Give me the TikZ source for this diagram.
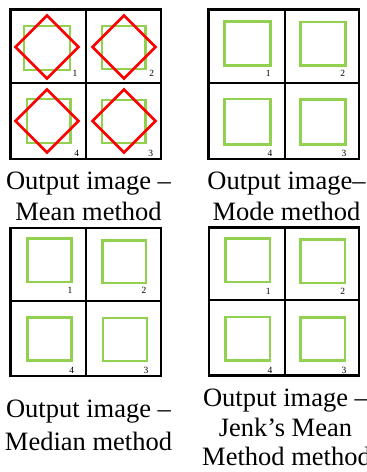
\documentclass[tikz,border=0pt]{standalone}
\usepackage{fontspec}
\setmainfont{Liberation Serif}
\definecolor{lgreen}{HTML}{92D050}
\definecolor{dred}{HTML}{FF0000}
\tikzset{
  outerframe/.style={draw=black, line width=2.6pt},
  innergrid/.style={draw=black, line width=2pt},
  gsq/.style={draw=lgreen, line width=2.6pt},
  rdia/.style={draw=dred, line width=2.6pt, line join=miter},
  num/.style={font=\fontsize{9.5}{10}\selectfont, inner sep=0pt},
  captext/.style={font=\fontsize{26.5}{30}\selectfont, inner sep=0pt, anchor=base},
}
\newcommand\rdiamond[3]{\draw[rdia] ({#1},{#2-31.5}) -- ({#1+31.5},{#2}) -- ({#1},{#2+31.5}) -- ({#1-31.5},{#2}) -- cycle;}
\begin{document}
\begin{tikzpicture}[x=1pt,y=-1pt]
\useasboundingbox (0,0) rectangle (367,472);
\fill[white] (0,0) rectangle (367,472);

% ---------- Panel 1 : Mean ----------
\draw[gsq] (24,26) rectangle (70,70);
\draw[gsq] (102,26) rectangle (145.5,69);
\draw[gsq] (27,99) rectangle (70.5,143);
\draw[gsq] (102,100) rectangle (145.5,143);
\rdiamond{47}{47}{}
\rdiamond{124}{47}{}
\rdiamond{47}{121}{}
\rdiamond{124}{121}{}
\draw[outerframe] (10.5,9.5) rectangle (161,159);
\draw[innergrid] (86,9.5) -- (86,159) (10.5,83) -- (161,83);
\node[num] (a1) at (75,73.3) {1};
\node[num] (a2) at (151.7,73.3) {2};
\node[num] (a4) at (76.7,153) {4};
\node[num] (a3) at (150.7,153) {3};
\node[captext] (capa1) at (88.5,189.3) {Output image –};
\node[captext] (capa2) at (88.5,220) {Mean method};

% ---------- Panel 2 : Mode ----------
\draw[gsq] (224.5,21.2) rectangle (270.2,65.5);
\draw[gsq] (300.2,21.9) rectangle (345.2,65.5);
\draw[gsq] (224.5,98.9) rectangle (270.2,144.5);
\draw[gsq] (300.2,99.5) rectangle (345.2,144.5);
\draw[outerframe] (208.5,9.5) rectangle (359,159);
\draw[innergrid] (284.7,9.5) -- (284.7,159) (208.5,83.3) -- (359,83.3);
\node[num] (b1) at (268.3,73.3) {1};
\node[num] (b2) at (342.7,73.3) {2};
\node[num] (b4) at (270,153.3) {4};
\node[num] (b3) at (344,153.3) {3};
\node[captext] (capb1) at (286.5,189.3) {Output image–};
\node[captext] (capb2) at (286.5,220) {Mode method};

% ---------- Panel 3 : Median ----------
\draw[gsq] (27.2,238.5) rectangle (71.5,282.1);
\draw[gsq] (102.2,240.2) rectangle (146.1,282.8);
\draw[gsq] (27.2,317.2) rectangle (71.5,360.5);
\draw[gsq] (102.9,317.9) rectangle (147.1,360.8);
\draw[outerframe] (10.5,228) rectangle (161,376);
\draw[innergrid] (86,228) -- (86,376) (10.5,300.7) -- (161,300.7);
\node[num] (c1) at (70,290.7) {1};
\node[num] (c2) at (144,290.7) {2};
\node[num] (c4) at (71.7,370) {4};
\node[num] (c3) at (146,370) {3};
\node[captext] (capc1) at (88.5,417.3) {Output image –};
\node[captext] (capc2) at (88.5,450) {Median method};

% ---------- Panel 4 : Jenk's Mean ----------
\draw[gsq] (225.2,238.5) rectangle (270.1,282.1);
\draw[gsq] (300.2,239.5) rectangle (345.1,282.8);
\draw[gsq] (225.2,316.9) rectangle (270.1,360.5);
\draw[gsq] (300.2,317.2) rectangle (345.1,360.5);
\draw[outerframe] (209,227.5) rectangle (359,375.5);
\draw[innergrid] (284.7,227.5) -- (284.7,375.5) (209,300) -- (359,300);
\node[num] (d1) at (268.3,291) {1};
\node[num] (d2) at (342.7,291) {2};
\node[num] (d4) at (270,370) {4};
\node[num] (d3) at (344,370) {3};
\node[captext] (capd1) at (285.5,406) {Output image –};
\node[captext] (capd2) at (285.5,436) {Jenk’s Mean};
\node[captext] (capd3) at (286.5,465) {Method method};
\end{tikzpicture}
\end{document}
